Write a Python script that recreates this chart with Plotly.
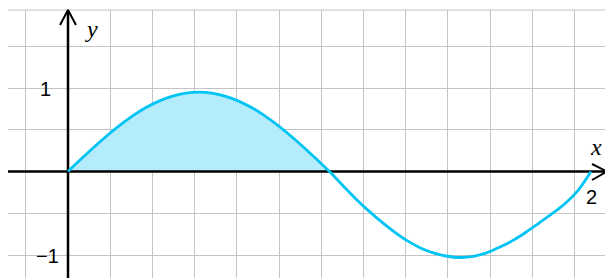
import plotly.graph_objects as go

# ---- data ----
x_vals = [0.0, 0.05, 0.1, 0.15, 0.2, 0.25, 0.3, 0.35, 0.4, 0.45, 0.5,
          0.55, 0.6, 0.65, 0.7, 0.75, 0.8, 0.85, 0.9, 0.95, 1.0,
          1.05, 1.1, 1.15, 1.2, 1.25, 1.3, 1.35, 1.4, 1.45, 1.5,
          1.55, 1.6, 1.65, 1.7, 1.75, 1.8, 1.85, 1.9, 1.95, 2.0]
y_vals = [0.0, 0.149, 0.294, 0.431, 0.558, 0.672, 0.769, 0.846, 0.903, 0.938, 0.950,
          0.938, 0.903, 0.846, 0.769, 0.672, 0.558, 0.431, 0.294, 0.149, 0.0,
          -0.165, -0.325, -0.472, -0.607, -0.728, -0.834, -0.918, -0.978, -1.015, -1.030,
          -1.017, -0.975, -0.908, -0.828, -0.730, -0.620, -0.508, -0.386, -0.228, 0.0]
fill_end = 1.0
y_tick_labels = {1: "1", -1: "\u22121"}
x_tick_labels = {2: "2"}

# ---- pixel helpers (layout only) ----
W, H = 605, 278
OX, OY = 68, 171.5
SX, SY = 261.5, 83.5


def dx(px):
    return (px - OX) / SX


def dy(py):
    return (OY - py) / SY


fx = [x for x in x_vals if x <= fill_end]
fy = [y for x, y in zip(x_vals, y_vals) if x <= fill_end]

CURVE = "#00c4f4"
FILL = "#b4ecfb"
GRID = "#c4c4c4"

fig = go.Figure()
fig.add_trace(go.Scatter(x=fx, y=fy, mode="lines",
                         line=dict(width=0, color=FILL, shape="spline", smoothing=1.0),
                         fill="tozeroy", fillcolor=FILL, hoverinfo="skip", showlegend=False))
# axes
fig.add_trace(go.Scatter(x=[dx(8), dx(606)], y=[0, 0], mode="lines",
                         line=dict(color="black", width=2.5), hoverinfo="skip", showlegend=False))
fig.add_trace(go.Scatter(x=[0, 0], y=[dy(279), dy(11)], mode="lines",
                         line=dict(color="black", width=2.5), hoverinfo="skip", showlegend=False))
# arrowheads
fig.add_trace(go.Scatter(x=[dx(60), 0, dx(76)], y=[dy(25), dy(10), dy(25)], mode="lines",
                         line=dict(color="black", width=2), hoverinfo="skip", showlegend=False))
fig.add_trace(go.Scatter(x=[dx(592), dx(607), dx(592)], y=[dy(164), 0, dy(180)], mode="lines",
                         line=dict(color="black", width=2), hoverinfo="skip", showlegend=False))
# curve
fig.add_trace(go.Scatter(x=x_vals, y=y_vals, mode="lines",
                         line=dict(color=CURVE, width=2.8, shape="spline", smoothing=1.0),
                         hoverinfo="skip", showlegend=False))

shapes = [
    dict(type="rect", xref="x", yref="y", x0=dx(-2), x1=dx(8), y0=dy(H + 2), y1=dy(-2),
         fillcolor="white", line=dict(width=0), layer="between"),
    dict(type="rect", xref="x", yref="y", x0=dx(-2), x1=dx(W + 2), y0=dy(10), y1=dy(-2),
         fillcolor="white", line=dict(width=0), layer="between"),
    dict(type="line", xref="x", yref="y", x0=dx(8), x1=dx(W + 2), y0=dy(10), y1=dy(10),
         line=dict(color=GRID, width=1), layer="between"),
]

annotations = []
for v, t in y_tick_labels.items():
    annotations.append(dict(x=0, y=v, xref="x", yref="y", text=t, showarrow=False,
                            xanchor="right", yanchor="middle", xshift=-7 if v < 0 else -15, yshift=-1,
                            font=dict(family="Liberation Sans, Arial", size=20, color="black")))
for v, t in x_tick_labels.items():
    annotations.append(dict(x=v, y=0, xref="x", yref="y", text=t, showarrow=False,
                            xanchor="center", yanchor="top", yshift=-12,
                            font=dict(family="Liberation Sans, Arial", size=20, color="black")))
annotations.append(dict(x=dx(91), y=dy(29), xref="x", yref="y", text="<i>y</i>", showarrow=False,
                        xanchor="center", yanchor="middle",
                        font=dict(family="Liberation Serif, Times New Roman", size=24, color="black")))
annotations.append(dict(x=dx(596), y=dy(147), xref="x", yref="y", text="<i>x</i>", showarrow=False,
                        xanchor="center", yanchor="middle",
                        font=dict(family="Liberation Serif, Times New Roman", size=24, color="black")))

fig.update_layout(
    width=W, height=H, margin=dict(l=0, r=0, t=0, b=0),
    paper_bgcolor="white", plot_bgcolor="white",
    shapes=shapes, annotations=annotations,
    xaxis=dict(range=[dx(0), dx(W)], showgrid=True, gridcolor=GRID, gridwidth=1,
               tick0=0, dtick=42.2 / SX, showticklabels=False, zeroline=False, showline=False,
               ticks="", fixedrange=True),
    yaxis=dict(range=[dy(H), dy(0)], showgrid=True, gridcolor=GRID, gridwidth=1,
               tick0=0, dtick=0.5, showticklabels=False, zeroline=False, showline=False,
               ticks="", fixedrange=True),
)

fig.write_html("out.html", config={"displayModeBar": False},
               post_script="document.body.style.margin='0px';document.body.style.overflow='hidden';")
